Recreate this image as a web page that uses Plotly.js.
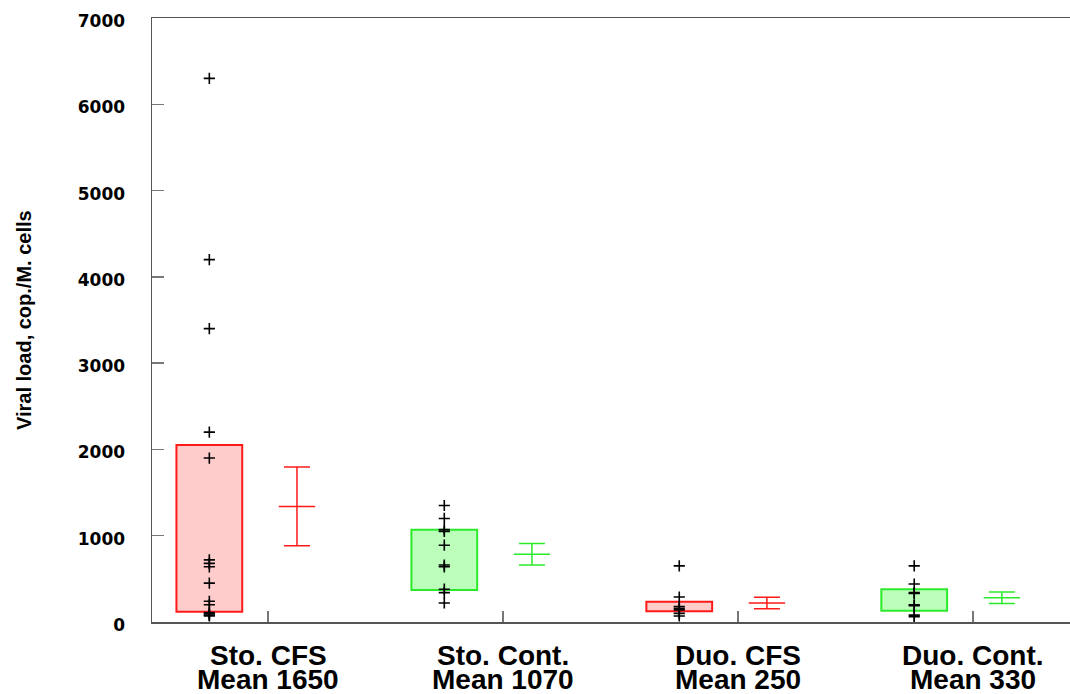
<!DOCTYPE html>
<html>
<head>
<meta charset="utf-8">
<script src="https://cdn.plot.ly/plotly-3.0.1.min.js"></script>
<style>
  html, body { margin: 0; padding: 0; background: #ffffff; }
  #chart { width: 1070px; height: 694px; }
</style>
</head>
<body>
<div id="chart"></div>
<script>
// Group names and the mean printed beneath each group
const categories = ['Sto. CFS', 'Sto. Cont.', 'Duo. CFS', 'Duo. Cont.'];
const meanLabels = [1650, 1070, 250, 330];

// Individual measurements per group (copies per million cells)
const stoCfs   = [6300, 4200, 3400, 2200, 1900, 720, 680, 640, 450, 240, 200, 110, 95, 80, 70];
const stoCont  = [1350, 1200, 1070, 1050, 890, 660, 640, 380, 340, 220];
const duoCfs   = [650, 290, 180, 160, 140, 100, 70];
const duoCont  = [650, 440, 340, 330, 200, 190, 80, 60];

// Interquartile boxes (lower and upper edge)
const boxLow  = [120, 370, 125, 130];
const boxHigh = [2050, 1070, 235, 380];

// Centre and half-length of the error bars drawn beside each box
const centre   = [1340, 785, 220, 280];
const halfSpan = [455, 125, 67, 67];

const groupPoints = [stoCfs, stoCont, duoCfs, duoCont];
const edgeColors  = ['#ff1a1a', '#2bea2b', '#ff1a1a', '#2bea2b'];
const fillColors  = ['#ffcccc', '#bbffbb', '#ffcccc', '#bbffbb'];

const boxOffset = -0.25;
const barOffset = 0.123;

const traces = [];

// Boxes as floating bars from the lower to the upper edge
traces.push({
  type: 'bar',
  x: categories.map((_, i) => i + boxOffset),
  base: boxLow,
  y: boxHigh.map((h, i) => h - boxLow[i]),
  width: 0.28,
  marker: { color: fillColors, line: { color: edgeColors, width: 2 } },
  hoverinfo: 'skip'
});

// Individual values as plus markers
groupPoints.forEach((vals, i) => {
  traces.push({
    type: 'scatter',
    mode: 'markers',
    x: vals.map(() => i + boxOffset),
    y: vals,
    marker: { symbol: 'cross-thin', size: 8, color: '#000', line: { color: '#000', width: 1.6 } }
  });
});

// Error bars with a centre tick
categories.forEach((_, i) => {
  traces.push({
    type: 'scatter',
    mode: 'markers',
    x: [i + barOffset],
    y: [centre[i]],
    marker: { symbol: 'line-ew', size: 26, color: edgeColors[i], line: { color: edgeColors[i], width: 1.5 } },
    error_y: { type: 'data', array: [halfSpan[i]], visible: true, color: edgeColors[i], thickness: 1.5, width: 13 }
  });
});

// Two-line category labels under the axis
const labelFont = { family: 'Liberation Sans, Arial, sans-serif', size: 28, color: '#000', weight: 'bold' };
const annotations = [];
categories.forEach((c, i) => {
  annotations.push({
    x: i, xref: 'x', y: -0.055, yref: 'paper', yanchor: 'middle', xanchor: 'center',
    text: c, showarrow: false, font: labelFont
  });
  annotations.push({
    x: i, xref: 'x', y: -0.096, yref: 'paper', yanchor: 'middle', xanchor: 'center',
    text: 'Mean ' + meanLabels[i], showarrow: false, font: labelFont
  });
});

// Vertical axis title
annotations.push({
  x: -0.1394, xref: 'paper', y: 0.5, yref: 'paper', xanchor: 'center', yanchor: 'middle',
  text: 'Viral load, cop./M. cells', textangle: -90, showarrow: false,
  font: { family: 'Liberation Sans, Arial, sans-serif', size: 20, color: '#000', weight: 'bold' }
});

const layout = {
  width: 1070,
  height: 694,
  margin: { l: 152, r: 0, t: 18, b: 72 },
  paper_bgcolor: '#ffffff',
  plot_bgcolor: '#ffffff',
  showlegend: false,
  barmode: 'overlay',
  xaxis: {
    range: [-0.494, 3.413],
    tickvals: [0, 1, 2, 3],
    ticktext: ['', '', '', ''],
    ticks: 'inside',
    ticklen: 11,
    tickwidth: 1.5,
    tickcolor: '#777',
    showgrid: false,
    zeroline: false,
    showline: true,
    linecolor: '#555',
    linewidth: 1.5,
    mirror: true
  },
  yaxis: {
    range: [0, 7000],
    tickvals: [0, 1000, 2000, 3000, 4000, 5000, 6000, 7000],
    ticks: 'inside',
    ticklen: 12,
    tickwidth: 1.5,
    tickcolor: '#777',
    ticklabelstandoff: 22,
    ticklabelshift: 3,
    showgrid: false,
    zeroline: false,
    showline: true,
    linecolor: '#555',
    linewidth: 1.5,
    tickfont: { family: 'DejaVu Sans, sans-serif', size: 17, color: '#000', weight: 'bold' }
  },
  annotations: annotations
};

Plotly.newPlot('chart', traces, layout, { displayModeBar: false, staticPlot: true });
</script>
</body>
</html>
